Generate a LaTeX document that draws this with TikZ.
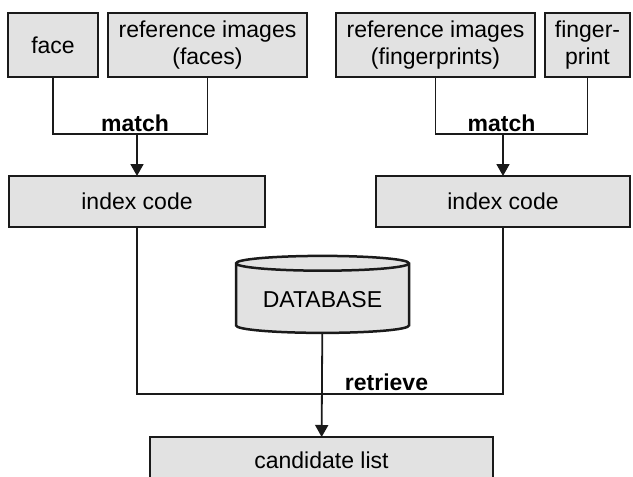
\documentclass[tikz,border=0pt]{standalone}
\usepackage{fontspec}
\setmainfont{Liberation Sans}
\usepackage{tikz}
\usetikzlibrary{arrows.meta,positioning,shapes.geometric}
\definecolor{boxgray}{HTML}{E2E2E2}
\definecolor{ink}{HTML}{1A1A1A}

\begin{document}
\begin{tikzpicture}[
  x=1pt,y=-1pt,
  font=\fontsize{23pt}{27pt}\selectfont,
  box/.style={draw=ink,line width=2.5pt,fill=boxgray,align=center,minimum height=64pt,inner sep=2pt,outer sep=0pt},
  wide/.style={box,minimum height=51pt},
  line/.style={draw=ink,line width=1.8pt},
  arr/.style={line,-{Triangle[length=12pt,width=13pt]}},
  lbl/.style={font=\fontsize{23pt}{27pt}\selectfont\bfseries,anchor=base,inner sep=0pt}
]
\clip (0,0) rectangle (633,477);
% inputs
\node[box,minimum width=90pt] (face) at (53,45) {face};
\node[box,minimum width=199pt,right=10pt of face] (reffaces) {reference images\\(faces)};
\node[box,minimum width=199pt,right=29pt of reffaces] (reffp) {reference images\\(fingerprints)};
\node[box,minimum width=85pt,right=10pt of reffp] (fp) {finger-\\print};
% index codes
\node[wide,minimum width=256pt] (idxL) at (137,201.5) {index code};
\node[wide,minimum width=254pt] (idxR) at (503,201.5) {index code};
% database
\node[draw=ink,line width=2.5pt,fill=boxgray,shape=cylinder,shape border rotate=90,aspect=0.12,
  minimum width=173pt,minimum height=77pt,inner sep=2pt] (db) at (322.5,299.5) {DATABASE};
% result
\node[box,minimum width=343pt,minimum height=46pt] (cand) at (321.5,460) {candidate list};

\coordinate (jL) at (137,134);
\coordinate (jR) at (503,134);
\coordinate (jB) at (322,394);
\draw[line] (face.south) |- (jL) -| (reffaces.south);
\draw[line] (reffp.south) |- (jR) -| (fp.south);
\draw[arr] (jL) -- (idxL);
\draw[arr] (jR) -- (idxR);
\draw[line] (idxL.south) |- (jB) -| (idxR.south);
\draw[arr] (db) -- (cand);
\node[lbl] (mL) at (135,131) {match};
\node[lbl] (mR) at (501.5,131) {match};
\node[lbl] (ret) at (386.5,390) {retrieve};
\end{tikzpicture}
\end{document}
